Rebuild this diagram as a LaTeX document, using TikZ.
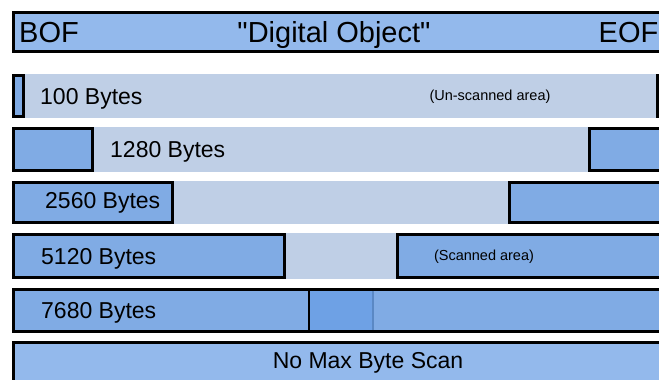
\documentclass[tikz,border=0pt]{standalone}
\usepackage{fontspec}
\setmainfont{Liberation Sans}
% a family without TeX ligature mapping, so that " stays a straight quote
\newfontfamily\straightsans{Liberation Sans}
\definecolor{headblue}{HTML}{93B9EC}
\definecolor{boxblue}{HTML}{80ABE4}
\definecolor{darkblue}{HTML}{6EA1E5}
\definecolor{edgeblue}{HTML}{5A88C4}
\definecolor{lightbar}{HTML}{BFCFE6}
\tikzset{
  outlined/.style={draw=black, line width=2.8pt},
  scanbox/.style={outlined, fill=boxblue},
  headbox/.style={outlined, fill=headblue},
  unscanned/.style={fill=lightbar},
  bigtext/.style={font=\straightsans\fontsize{29}{32}\selectfont, inner sep=0pt},
  rowtext/.style={font=\fontsize{23}{26}\selectfont, inner sep=0pt},
  smalltext/.style={font=\fontsize{14.5}{17}\selectfont, inner sep=0pt},
}
\begin{document}
\begin{tikzpicture}[x=1pt, y=-1pt]
\useasboundingbox (0,0) rectangle (659,380);
\fill[white] (0,0) rectangle (659,380);
\clip (0,0) rectangle (659,380);

% file header bar
\draw[headbox] (13.4,12.4) rectangle (680,51.6);
\node[bigtext, anchor=base west] (bof) at (19,42) {BOF};
\node[bigtext, anchor=base] (obj) at (334,42) {"Digital Object"};
\node[bigtext, anchor=base east] (eof) at (658.5,42) {EOF};

% 100 bytes
\fill[unscanned] (12,74) rectangle (660,118);
\draw[scanbox] (13.4,75.4) rectangle (23.6,116.6);
\draw[scanbox] (657.4,75.4) rectangle (680,116.6);
\node[rowtext, anchor=base west] (r1) at (40,104) {100 Bytes};
\node[smalltext] (unscan) at (490,97) {(Un-scanned area)};

% 1280 bytes
\fill[unscanned] (12,127) rectangle (660,172);
\draw[scanbox] (13.4,128.4) rectangle (92.6,170.6);
\draw[scanbox] (589.4,128.4) rectangle (680,170.6);
\node[rowtext, anchor=base west] (r2) at (110,157.5) {1280 Bytes};

% 2560 bytes
\fill[unscanned] (12,181) rectangle (660,224);
\draw[scanbox] (13.4,182.4) rectangle (172.6,222.6);
\draw[scanbox] (509.4,182.4) rectangle (680,222.6);
\node[rowtext, anchor=base west] (r3) at (45,208.5) {2560 Bytes};

% 5120 bytes
\fill[unscanned] (12,233) rectangle (660,279);
\draw[scanbox] (13.4,234.4) rectangle (284.6,277.6);
\draw[scanbox] (397.4,234.4) rectangle (680,277.6);
\node[rowtext, anchor=base west] (r4) at (41,264.5) {5120 Bytes};
\node[smalltext] (scan) at (484,257) {(Scanned area)};

% 7680 bytes
\draw[scanbox] (13.4,289.4) rectangle (680,331.6);
\fill[darkblue] (309,290.8) rectangle (373,330.2);
\draw[edgeblue, line width=1.5pt] (373,290.8) -- (373,330.2);
\draw[black, line width=2.8pt] (309,289.4) -- (309,331.6);
\node[rowtext, anchor=base west] (r5) at (41,318.5) {7680 Bytes};

% no limit
\draw[headbox] (13.4,342.4) rectangle (680,400);
\node[rowtext, anchor=base] (nomax) at (368,368.5) {No Max Byte Scan};
\end{tikzpicture}
\end{document}
